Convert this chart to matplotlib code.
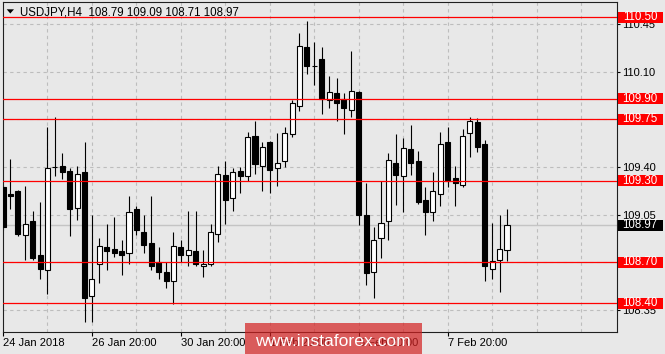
import matplotlib
matplotlib.use("Agg")
import matplotlib.pyplot as plt
import matplotlib.transforms as mtransforms
from matplotlib.patches import Rectangle, Polygon

plt.rcParams['font.family'] = ['Liberation Sans', 'DejaVu Sans']

W, H = 665, 354
BG = '#e8e8e8'

title_text = 'USDJPY,H4  108.79 109.09 108.71 108.97'

# USDJPY H4 bars, 24 Jan 20:00 .. 9 Feb 04:00
opens = [109.25, 109.20, 109.22, 108.90, 109.00, 108.75, 108.64, 109.40, 109.41, 109.37,
         109.10, 109.36, 108.45, 108.69, 108.81, 108.80, 108.78, 108.77, 109.09, 108.92,
         108.84, 108.70, 108.63, 108.56, 108.81, 108.75, 108.78, 108.67, 108.69, 108.91,
         109.34, 109.17, 109.37, 109.33, 109.63, 109.41, 109.58, 109.39, 109.44, 109.64,
         109.85, 110.28, 110.14, 110.19, 109.89, 109.94, 109.90, 109.82, 109.95, 109.05,
         108.63, 108.88, 109.00, 109.43, 109.33, 109.53, 109.44, 109.16, 109.07, 109.20,
         109.58, 109.32, 109.27, 109.65, 109.73, 109.57, 108.65, 108.72, 108.79]
highs = [109.27, 109.46, 109.23, 109.26, 109.08, 109.14, 109.69, 109.77, 109.50, 109.39,
         109.41, 109.58, 109.05, 108.88, 108.98, 109.03, 108.86, 109.19, 109.11, 109.05,
         109.19, 108.81, 108.70, 108.92, 108.86, 109.08, 109.08, 108.79, 108.98, 109.41,
         109.44, 109.39, 109.40, 109.66, 109.74, 109.58, 109.59, 109.65, 109.69, 109.89,
         110.38, 110.47, 110.32, 110.28, 110.07, 110.05, 109.94, 110.25, 109.96, 109.28,
         108.96, 109.30, 109.50, 109.64, 109.61, 109.71, 109.52, 109.25, 109.36, 109.66,
         109.69, 109.41, 109.68, 109.77, 109.76, 109.60, 108.99, 109.05, 109.09]
lows = [108.94, 109.09, 108.89, 108.72, 108.72, 108.58, 108.47, 109.33, 109.31, 108.89,
        109.01, 108.26, 108.26, 108.55, 108.64, 108.74, 108.61, 108.69, 108.90, 108.77,
        108.64, 108.58, 108.51, 108.39, 108.70, 108.67, 108.67, 108.59, 108.67, 108.85,
        108.98, 109.08, 109.21, 109.30, 109.35, 109.22, 109.21, 109.26, 109.40, 109.62,
        109.81, 110.08, 110.00, 109.79, 109.83, 109.74, 109.64, 109.77, 108.97, 108.53,
        108.44, 108.73, 108.86, 109.12, 109.07, 109.34, 109.13, 108.90, 109.00, 109.11,
        109.25, 109.11, 109.25, 109.47, 109.51, 108.56, 108.58, 108.48, 108.71]
closes = [108.96, 109.19, 108.91, 108.98, 108.73, 108.65, 109.39, 109.40, 109.36, 109.09,
          109.35, 108.44, 108.58, 108.82, 108.78, 108.77, 108.75, 109.07, 108.94, 108.83,
          108.67, 108.63, 108.56, 108.82, 108.75, 108.79, 108.69, 108.69, 108.92, 109.35,
          109.16, 109.36, 109.33, 109.62, 109.42, 109.55, 109.38, 109.43, 109.65, 109.87,
          110.29, 110.14, 110.14, 109.90, 109.95, 109.87, 109.83, 109.96, 109.05, 108.62,
          108.86, 108.99, 109.45, 109.34, 109.54, 109.43, 109.14, 109.07, 109.22, 109.57,
          109.30, 109.28, 109.63, 109.74, 109.55, 108.67, 108.71, 108.80, 108.97]

level_prices = [110.50, 109.90, 109.75, 109.30, 108.70, 108.40]
last_price = 108.97

ytick_values = [108.35, 108.70, 109.05, 109.40, 109.75, 110.10, 110.45]
xtick_bars = [0, 12, 24, 36, 48, 60]
xtick_labels = ['24 Jan 2018', '26 Jan 20:00', '30 Jan 20:00',
                '1 Feb 20:00', '5 Feb 20:00', '7 Feb 20:00']


def fx(px):
    return px / W


def fy(py):
    return 1 - py / H


fig = plt.figure(figsize=(W / 100, H / 100), dpi=100, facecolor=BG)
ax = fig.add_axes([fx(3), fy(332), (616.7 - 3) / W, 330 / H], facecolor=BG)

ax.set_xlim(0, 82.8)
ax.set_ylim(108.188, 110.611)

# grid
for g in range(6, 83, 6):
    ax.axvline(g, color='#bdbdbd', lw=0.8, ls=(0, (3, 3)), zorder=0)
for v in ytick_values:
    ax.axhline(v, color='#bdbdbd', lw=0.8, ls=(0, (3, 3)), zorder=0)

# current price line
ax.axhline(last_price, color='#c4c4c4', lw=1.0, zorder=0.5)

# candles
idx = list(range(len(opens)))
ax.vlines(idx, lows, highs, color='black', lw=0.8, zorder=2)
bottoms = [min(o, c) for o, c in zip(opens, closes)]
heights = [abs(c - o) for o, c in zip(opens, closes)]
faces = ['white' if c >= o else 'black' for o, c in zip(opens, closes)]
ax.bar(idx, heights, bottom=bottoms, width=0.68, color=faces,
       edgecolor='black', linewidth=0.8, zorder=3)

# horizontal levels
for lv in level_prices:
    ax.axhline(lv, color='#ff0000', lw=0.9, zorder=4)

# axes styling
for s in ax.spines.values():
    s.set_color('#202020')
    s.set_linewidth(0.8)
ax.yaxis.tick_right()
ax.set_yticks(ytick_values)
# labels fully covered by a level box are left blank
ax.set_yticklabels(['' if v in level_prices else f'{v:.2f}' for v in ytick_values])
ax.tick_params(axis='y', length=2.5, width=0.8, pad=1.5, labelsize=8, colors='black')
ax.set_xticks(xtick_bars)
ax.set_xticklabels(xtick_labels, ha='left')
ax.tick_params(axis='x', length=3, width=0.8, pad=1.5, labelsize=8, colors='black')

# price labels on the right
trans = mtransforms.blended_transform_factory(ax.transAxes, ax.transData)
box_w = 45 / 613.7
box_h = 11 / 136.2
for lv in level_prices:
    ax.add_patch(Rectangle((1.0016, lv - box_h / 2), box_w, box_h, transform=trans,
                           facecolor='#ff0000', edgecolor='none', clip_on=False, zorder=6))
    ax.text(1.0016 + box_w / 2, lv, f'{lv:.2f}', transform=trans, ha='center', va='center',
            color='white', fontsize=8.3, clip_on=False, zorder=7)
ax.add_patch(Rectangle((1.0016, last_price - box_h / 2), box_w, box_h, transform=trans,
                       facecolor='black', edgecolor='none', clip_on=False, zorder=6))
ax.text(1.0016 + box_w / 2, last_price, f'{last_price:.2f}', transform=trans, ha='center',
        va='center', color='white', fontsize=8.3, clip_on=False, zorder=7)

# title with triangle
tri = Polygon([(fx(6.7), fy(9.3)), (fx(14), fy(9.3)), (fx(10.3), fy(13.5))],
              closed=True, transform=fig.transFigure, facecolor='black', edgecolor='none')
fig.add_artist(tri)
fig.text(fx(20), fy(12.5), title_text, ha='left', va='center', fontsize=8.3, color='black')

# watermark
fig.add_artist(Rectangle((fx(245), 0), (422 - 245) / W, 31 / H, transform=fig.transFigure,
                         facecolor='#d42020', alpha=0.7, edgecolor='none', zorder=10))
fig.text(fx(333), fy(345.5), 'www.instaforex.com', ha='center', va='baseline',
         fontsize=12.6, color='white', zorder=11)

fig.savefig('out.png', dpi=100, facecolor=BG)
